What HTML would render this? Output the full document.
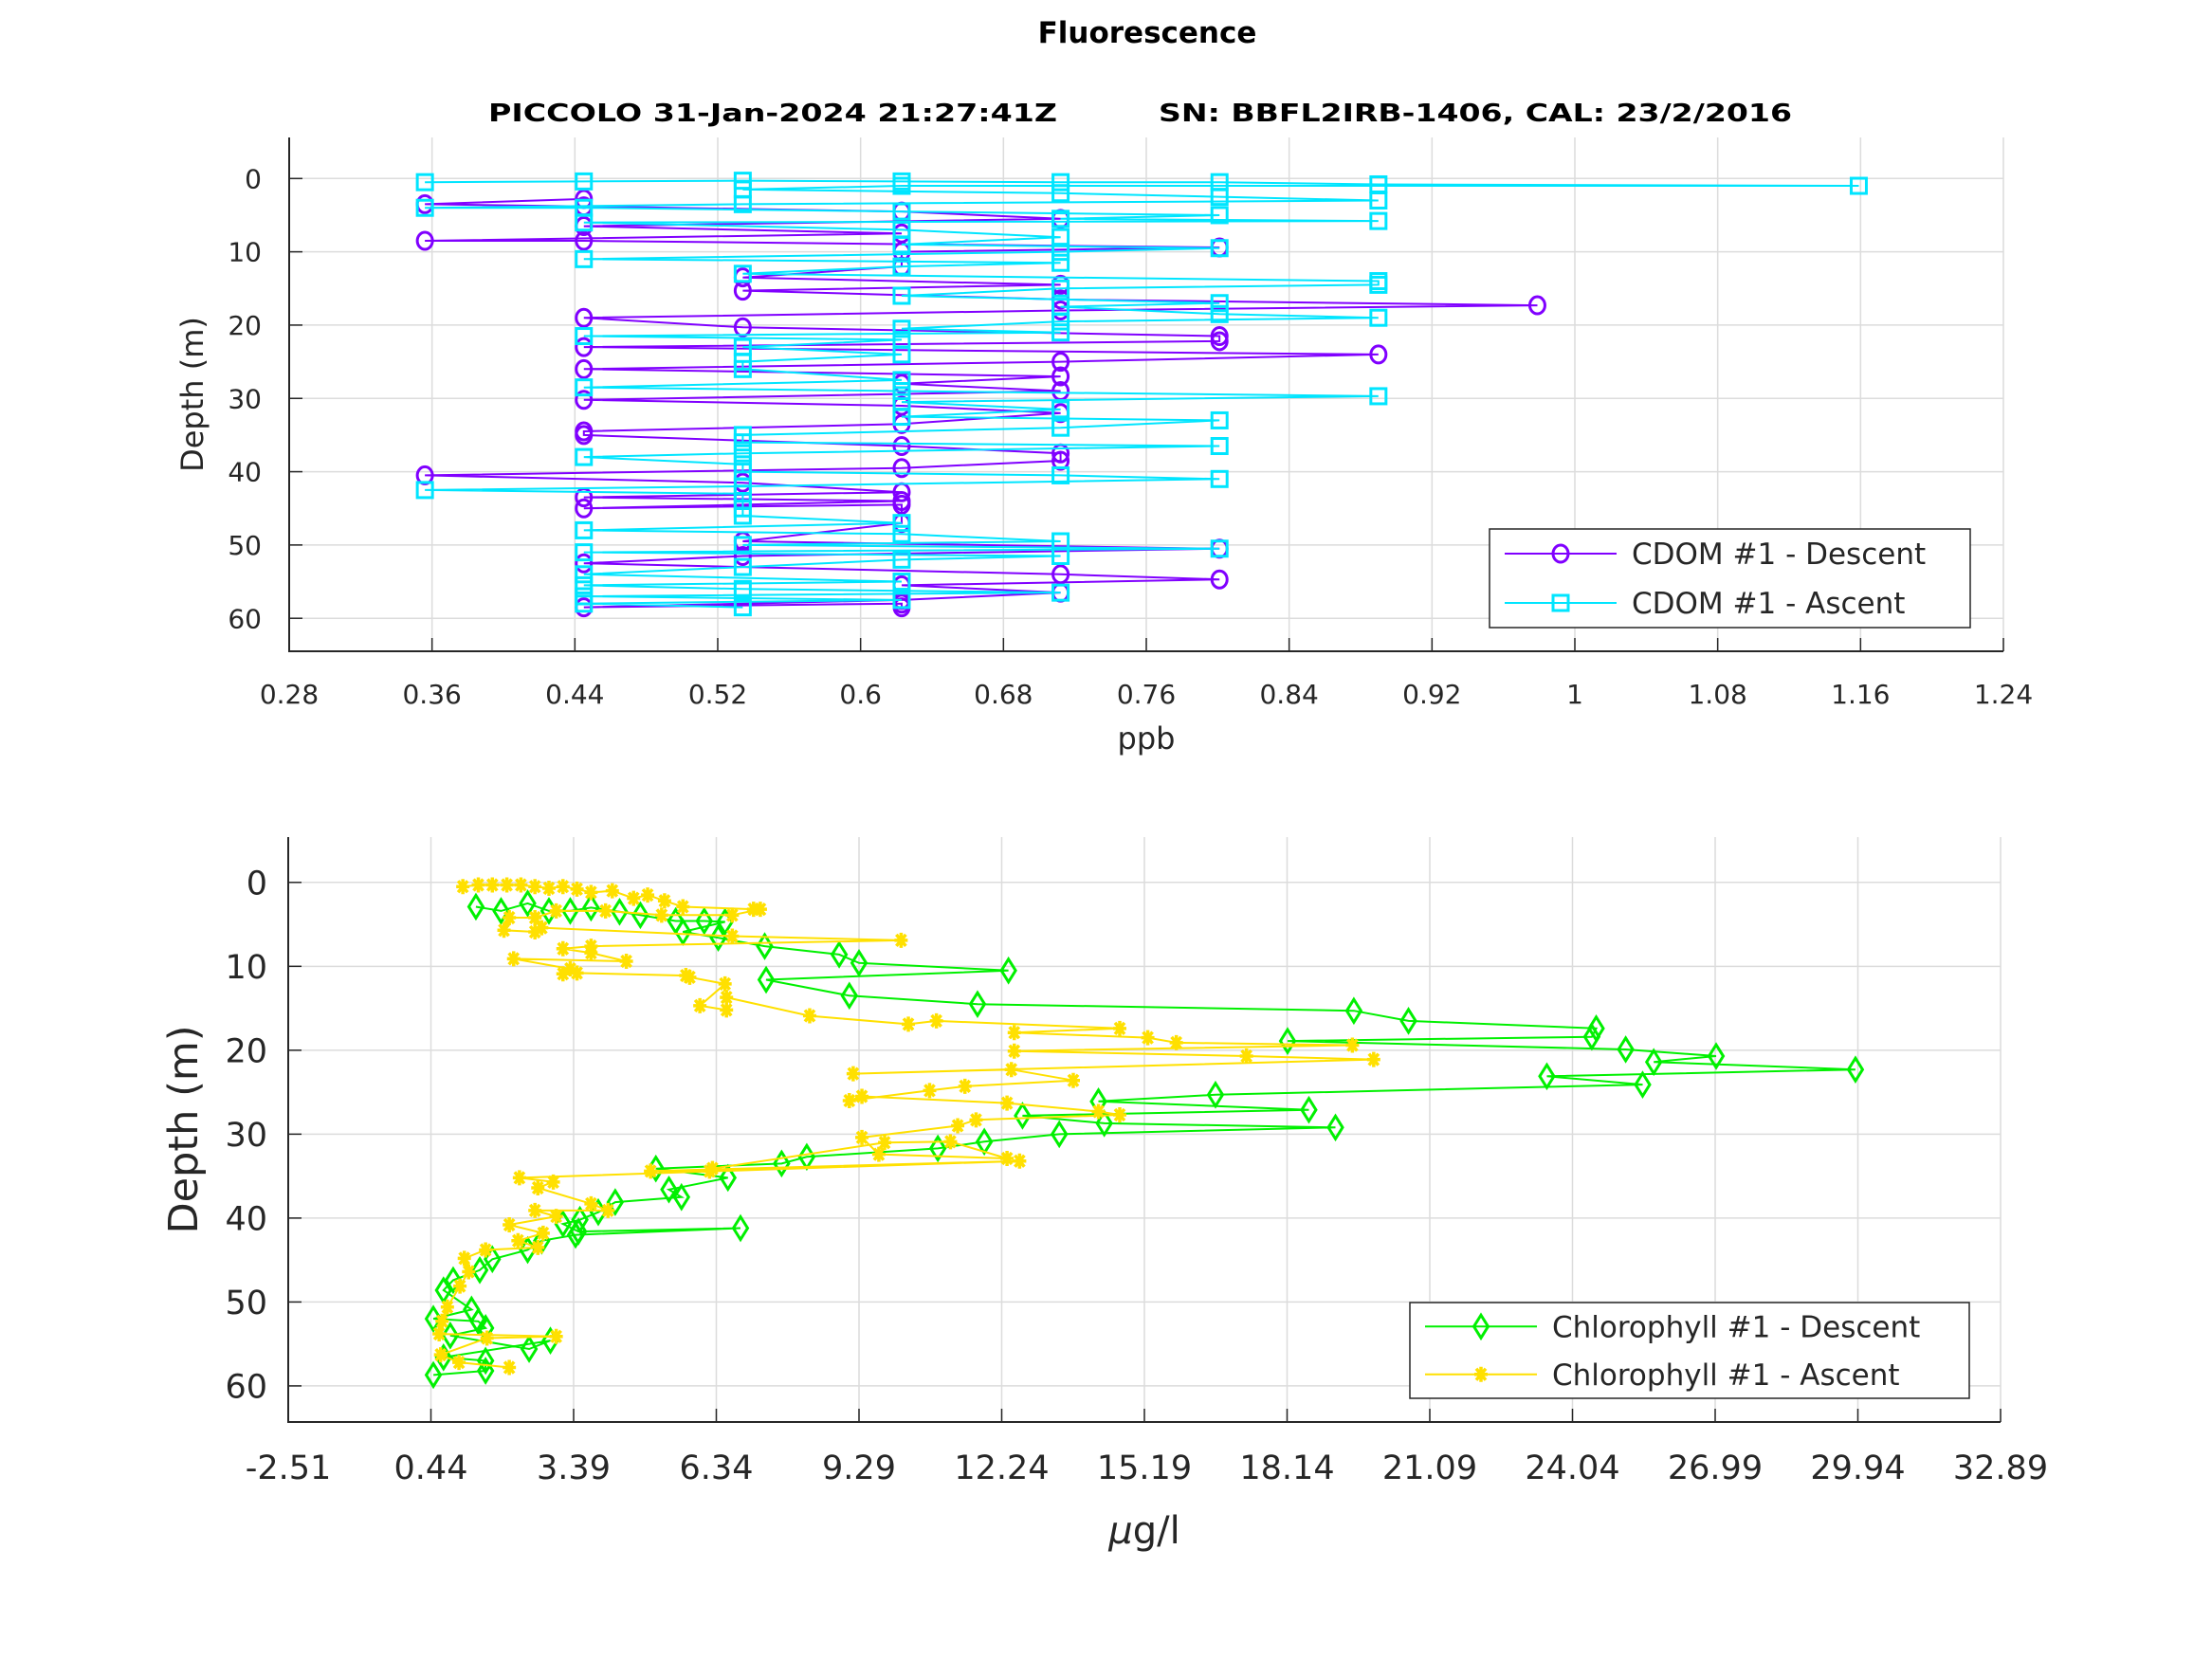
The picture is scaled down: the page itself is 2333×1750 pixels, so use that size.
<!DOCTYPE html>
<html><head><meta charset="utf-8"><style>
html,body{margin:0;padding:0;background:#fff}
svg{display:block;font-family:"DejaVu Sans","Liberation Sans",sans-serif}
</style></head><body>
<svg id="c" width="2333" height="1750" viewBox="0 0 2333 1750" xmlns="http://www.w3.org/2000/svg">
<rect width="2333" height="1750" fill="#fff"/>
<text x="1210" y="45" text-anchor="middle" font-size="31" font-weight="bold">Fluorescence</text>
<text x="515" y="128" font-size="26" font-weight="bold" textLength="600" lengthAdjust="spacingAndGlyphs">PICCOLO 31-Jan-2024 21:27:41Z</text>
<text x="1222" y="128" font-size="26" font-weight="bold" textLength="668" lengthAdjust="spacingAndGlyphs">SN: BBFL2IRB-1406, CAL: 23/2/2016</text>
<g id="top"></g>
<g id="bot"></g>
</svg>
<script>
// CDOM data
const cdomDescDepth=[2.8,3.5,3.8,4.5,5.5,6.5,7.5,8.5,8.5,9.4,10,12,13.5,14.5,15.3,16.5,17.3,18,19,20.3,21.5,22.2,23,24,25,26,27,28,29,30.2,31,32,33.5,34.5,35,36.5,37.5,38.5,39.5,40.5,41.5,42.8,43.5,44,45,44.5,47,49.5,50.5,51.5,52.5,54,54.7,55.5,56.5,57.5,58.5,58,58.5];
const cdomDescVal=[0.445,0.356,0.445,0.623,0.712,0.445,0.623,0.356,0.445,0.801,0.623,0.623,0.534,0.712,0.534,0.712,0.979,0.712,0.445,0.534,0.801,0.801,0.445,0.890,0.712,0.445,0.712,0.623,0.712,0.445,0.623,0.712,0.623,0.445,0.445,0.623,0.712,0.712,0.623,0.356,0.534,0.623,0.445,0.623,0.445,0.623,0.623,0.534,0.801,0.534,0.445,0.712,0.801,0.623,0.712,0.623,0.445,0.623,0.623];
const cdomAscDepth=[58.5,58,57.5,57,56.5,56,55.5,55,54,53,52,51.5,51,50.5,50,49.5,48.5,48,47,46,45,44,43,42.5,42,41,40.5,40,39,38,37.5,36.5,36,35,34,33,32.5,31.5,30.5,29.7,29,28.5,27.5,26,25,24,23,22,21.5,21,20.5,19.5,19,18.5,17.5,17,16,15,14.5,14,13,12,11.5,11,10,9.5,9,8,7,6,5.8,5.5,5,4.5,4,4,3.5,3,2.5,2,1.5,1,1,0.8,0.5,0.5,0.4,0.3,0.4,0.5];
const cdomAscVal=[0.534,0.445,0.623,0.445,0.712,0.534,0.445,0.623,0.445,0.534,0.623,0.712,0.445,0.801,0.534,0.712,0.623,0.445,0.623,0.534,0.534,0.534,0.534,0.356,0.534,0.801,0.712,0.534,0.534,0.445,0.534,0.801,0.534,0.534,0.712,0.801,0.623,0.712,0.623,0.890,0.623,0.445,0.623,0.534,0.534,0.623,0.534,0.623,0.445,0.712,0.623,0.712,0.890,0.801,0.712,0.801,0.623,0.712,0.890,0.890,0.534,0.623,0.712,0.445,0.712,0.801,0.623,0.712,0.623,0.445,0.890,0.712,0.801,0.623,0.445,0.356,0.534,0.890,0.801,0.712,0.534,0.623,1.159,0.890,0.801,0.712,0.623,0.534,0.445,0.356];
const cdomXTicks=["0.28","0.36","0.44","0.52","0.6","0.68","0.76","0.84","0.92","1","1.08","1.16","1.24"];
const depthTicks=[0,10,20,30,40,50,60];
// Chlorophyll data
const chlDescDepth=[2.9,3.4,2.5,3.4,3.4,3.0,3.5,3.9,4.6,4.6,4.7,5.9,6.6,7.6,8.6,9.6,10.5,11.6,13.5,14.5,15.3,16.5,17.4,18.4,18.9,19.9,20.7,21.4,22.3,23.1,24.1,25.3,26.1,27.1,27.8,28.7,29.2,30.0,30.9,31.7,32.7,33.5,34.1,35.2,36.6,37.5,38.1,39.3,40.2,40.7,41.6,41.2,42.0,42.7,43.8,44.9,46.2,47.4,48.6,50.9,52.0,52.3,53.1,54.0,55.6,54.6,56.6,57.0,58.2,58.7];
const chlDescVal=[1.37,1.89,2.44,2.88,3.32,3.75,4.34,4.77,5.50,6.09,6.52,5.65,6.38,7.34,8.88,9.29,12.38,7.37,9.09,11.74,19.52,20.65,24.53,24.44,18.15,25.14,27.01,25.72,29.89,23.51,25.49,16.66,14.24,18.59,12.67,14.36,19.14,13.43,11.88,10.92,8.21,7.69,5.09,6.58,5.36,5.62,4.25,3.90,3.52,3.17,3.49,6.84,3.43,2.73,2.44,1.71,1.45,0.90,0.70,1.28,0.49,1.42,1.57,0.84,2.47,2.91,0.70,1.57,1.57,0.49];
const chlAscDepth=[0.5,0.3,0.3,0.3,0.3,0.5,0.7,0.5,0.8,1.2,1.0,1.9,1.5,2.2,2.9,3.2,3.2,3.9,3.9,3.4,3.4,4.2,4.2,5.7,5.9,5.4,6.4,6.9,7.6,7.9,8.4,9.4,9.1,10.3,10.9,10.8,11.1,11.3,12.1,14.7,15.2,13.7,15.9,16.9,16.5,17.4,17.9,18.5,19.1,19.4,20.1,20.7,21.1,22.8,22.3,23.6,24.3,24.8,26.0,25.5,26.3,27.3,27.7,28.3,29.0,30.4,32.4,32.9,30.9,31.0,34.1,34.4,34.4,33.2,35.2,35.7,36.4,38.3,39.1,39.1,39.8,40.8,41.8,42.7,43.5,43.8,44.8,46.4,48.1,50.6,52.3,53.8,54.1,54.3,56.3,57.2,57.8];
const chlAscVal=[1.10,1.42,1.71,2.01,2.30,2.59,2.88,3.17,3.46,3.75,4.19,4.63,4.92,5.27,5.65,7.11,7.25,6.67,5.21,4.05,3.03,2.59,2.06,1.95,2.59,2.73,6.67,10.16,3.75,3.17,3.75,4.48,2.15,3.32,3.17,3.46,5.71,5.79,6.52,6.00,6.55,6.55,8.27,10.31,10.89,14.68,12.50,15.26,15.85,19.49,12.50,17.30,19.93,9.17,12.44,13.72,11.48,10.75,9.09,9.35,12.35,14.24,14.68,11.71,11.33,9.35,9.70,12.35,11.18,9.82,6.26,6.20,4.98,12.61,2.27,2.97,2.65,3.75,4.10,2.59,3.03,2.06,2.76,2.24,2.65,1.57,1.13,1.22,1.04,0.78,0.67,0.61,3.03,1.60,0.64,1.02,2.06];
const chlXTicks=["-2.51","0.44","3.39","6.34","9.29","12.24","15.19","18.14","21.09","24.04","26.99","29.94","32.89"];

const NS="http://www.w3.org/2000/svg";
function mk(p,t,a){const e=document.createElementNS(NS,t);for(const k in a)e.setAttribute(k,a[k]);p.appendChild(e);return e;}

function marker(g,type,x,y,col){
  let e;
  if(type==='o'){e=mk(g,'ellipse',{cx:x,cy:y,rx:8,ry:9,fill:'none',stroke:col,'stroke-width':3});}
  else if(type==='s'){e=mk(g,'rect',{x:x-8,y:y-8,width:16,height:16,fill:'none',stroke:col,'stroke-width':3});}
  else if(type==='d'){e=mk(g,'polygon',{points:`${x},${y-12} ${x+7.5},${y} ${x},${y+12} ${x-7.5},${y}`,fill:'none',stroke:col,'stroke-width':3});}
  else {e=mk(g,'path',{d:`M${x-7},${y}H${x+7}M${x},${y-8}V${y+8}M${x-5},${y-6}L${x+5},${y+6}M${x-5},${y+6}L${x+5},${y-6}`,stroke:col,'stroke-width':3.5,fill:'none'});}
  
  
}

function chart(gid,o){
  const g=document.getElementById(gid);
  const X=v=>o.x0+(v-o.xmin)/(o.xmax-o.xmin)*(o.x1-o.x0);
  const Y=d=>o.y0+(d-o.dmin)/(o.dmax-o.dmin)*(o.y1-o.y0);
  const n=o.xt.length;
  for(let i=0;i<n;i++){
    const v=o.xmin+(o.xmax-o.xmin)*i/(n-1);const x=X(v);
    const gl=mk(g,'line',{x1:x,y1:o.y0,x2:x,y2:o.y1,stroke:'#dcdcdc','stroke-width':1.5});
    
    const tk=mk(g,'line',{x1:x,y1:o.y1,x2:x,y2:o.y1-14,stroke:'#262626','stroke-width':1.5});
    
    const t=mk(g,'text',{x:x,y:o.xly,'text-anchor':'middle','font-size':o.fs,fill:'#262626'});
    t.textContent=o.xt[i];
  }
  depthTicks.forEach(d=>{
    const y=Y(d);
    const gl=mk(g,'line',{x1:o.x0,y1:y,x2:o.x1,y2:y,stroke:'#dcdcdc','stroke-width':1.5});
    
    const tk=mk(g,'line',{x1:o.x0,y1:y,x2:o.x0+14,y2:y,stroke:'#262626','stroke-width':1.5});
    
    const t=mk(g,'text',{x:o.ylx,y:y+o.fs*0.36,'text-anchor':'end','font-size':o.fs,fill:'#262626'});
    t.textContent=d;
  });
  const ax=mk(g,'path',{d:`M${o.x0},${o.y0}V${o.y1}H${o.x1}`,stroke:'#262626','stroke-width':2,fill:'none'});
  
  o.series.forEach(s=>{
    const pts=s.d.map((d,i)=>X(s.v[i]).toFixed(1)+','+Y(d).toFixed(1)).join(' ');
    const pl=mk(g,'polyline',{points:pts,fill:'none',stroke:s.c,'stroke-width':2});
    
    s.d.forEach((d,i)=>marker(g,s.m,X(s.v[i]),Y(d),s.c));
  });
  const xl=mk(g,'text',{x:(o.x0+o.x1)/2,y:o.xlabY,'text-anchor':'middle','font-size':o.lfs,fill:'#262626'});
  xl.innerHTML=o.xlabel;
  const yl=mk(g,'text',{x:0,y:0,'text-anchor':'middle','font-size':o.yfs,fill:'#262626',transform:`translate(${o.ylabX},${(o.y0+o.y1)/2}) rotate(-90)`});
  yl.textContent='Depth (m)';
  const L=o.leg;
  const lb=mk(g,'rect',{x:L.x,y:L.y,width:L.w,height:L.h,fill:'#fff',stroke:'#262626','stroke-width':1.5});
  
  o.series.forEach((s,i)=>{
    const yy=L.y+L.h*(i*2+1)/4;
    const ll=mk(g,'line',{x1:L.x+16,y1:yy,x2:L.x+134,y2:yy,stroke:s.c,'stroke-width':2});
    
    marker(g,s.m,L.x+75,yy,s.c);
    const t=mk(g,'text',{x:L.x+150,y:yy+11,'font-size':31,fill:'#262626'});
    t.textContent=s.label;
  });
}

chart('top',{x0:305,x1:2113,y0:145,y1:687,xmin:0.28,xmax:1.24,dmin:-5.6,dmax:64.5,xt:cdomXTicks,fs:28,xly:742,ylx:276,
  xlabel:'ppb',xlabY:790,lfs:32,yfs:32,ylabX:214,
  leg:{x:1571,y:558,w:507,h:104},
  series:[{d:cdomDescDepth,v:cdomDescVal,c:'#8000ff',m:'o',name:'cdom-descent-line',label:'CDOM #1 - Descent'},
          {d:cdomAscDepth,v:cdomAscVal,c:'#00e5ff',m:'s',name:'cdom-ascent-line',label:'CDOM #1 - Ascent'}]});
chart('bot',{x0:304,x1:2110,y0:883,y1:1500,xmin:-2.51,xmax:32.89,dmin:-5.4,dmax:64.3,xt:chlXTicks,fs:35,xly:1560,ylx:282,
  xlabel:'<tspan font-style="italic">μ</tspan>g/l',xlabY:1628,lfs:40,yfs:43,ylabX:208,
  leg:{x:1487,y:1374,w:590,h:101},
  series:[{d:chlDescDepth,v:chlDescVal,c:'#00f000',m:'d',name:'chlorophyll-descent-line',label:'Chlorophyll #1 - Descent'},
          {d:chlAscDepth,v:chlAscVal,c:'#ffe000',m:'*',name:'chlorophyll-ascent-line',label:'Chlorophyll #1 - Ascent'}]});
</script>
</body></html>
